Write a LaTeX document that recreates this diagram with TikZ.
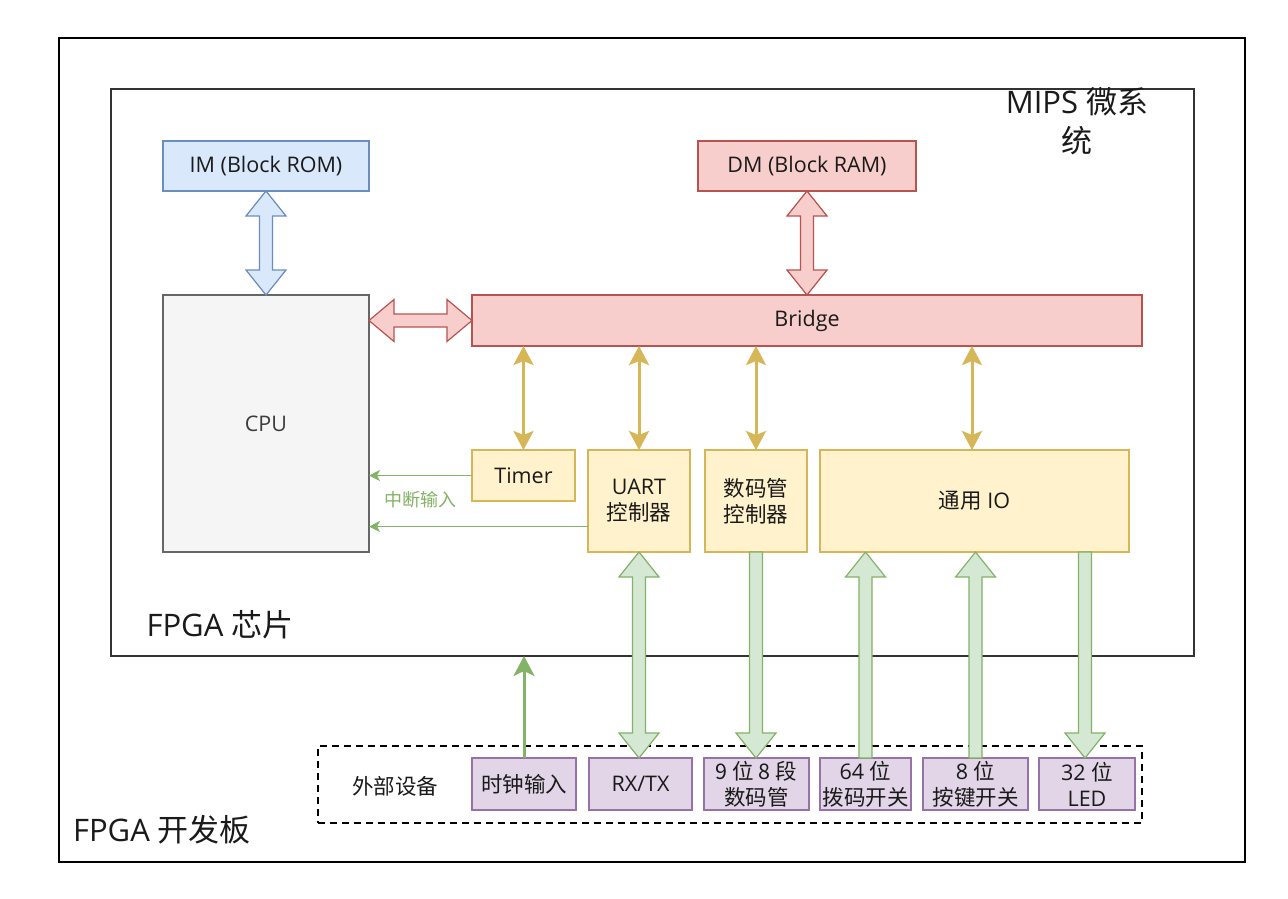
\documentclass[tikz,border=0pt]{standalone}
\usepackage{fontspec}
\setmainfont{Open Sans}
\newfontfamily\cjk{Noto Sans CJK SC}
\usetikzlibrary{arrows.meta,calc}
\definecolor{bluefill}{HTML}{DAE8FC}\definecolor{bluedraw}{HTML}{6C8EBF}
\definecolor{redfill}{HTML}{F8CECC}\definecolor{reddraw}{HTML}{B85450}
\definecolor{grayfill}{HTML}{F5F5F5}\definecolor{graydraw}{HTML}{666666}
\definecolor{yelfill}{HTML}{FFF2CC}\definecolor{yeldraw}{HTML}{D6B656}
\definecolor{grnfill}{HTML}{D5E8D4}\definecolor{grndraw}{HTML}{82B366}
\definecolor{purfill}{HTML}{E1D5E7}\definecolor{purdraw}{HTML}{9673A6}
\definecolor{txt}{HTML}{1A1A1A}
\newcommand{\vdouble}[3]{%
  \draw[#1] (#2) -- ++(20,25) -- ++(-13.5,0) -- ($(#3)+(6.5,-25)$) -- ++(13.5,0) -- (#3)
    -- ++(-20,-25) -- ++(13.5,0) -- ($(#2)+(-6.5,25)$) -- ++(-13.5,0) -- cycle;}
\newcommand{\hdouble}[3]{%
  \draw[#1] (#2) -- ++(25,-21) -- ++(0,14.5) -- ($(#3)+(-25,-6.5)$) -- ++(0,-14.5) -- (#3)
    -- ++(-25,21) -- ++(0,-14.5) -- ($(#2)+(25,6.5)$) -- ++(0,14.5) -- cycle;}
\newcommand{\vup}[3]{%
  \draw[#1] (#3) -- ++(20,25) -- ++(-13.5,0) -- ($(#2)+(6.5,0)$) -- ($(#2)+(-6.5,0)$)
    -- ($(#3)+(-6.5,25)$) -- ++(-13.5,0) -- cycle;}
\newcommand{\vdown}[3]{%
  \draw[#1] (#3) -- ++(20,-25) -- ++(-13.5,0) -- ($(#2)+(6.5,0)$) -- ($(#2)+(-6.5,0)$)
    -- ($(#3)+(-6.5,-25)$) -- ++(-13.5,0) -- cycle;}
\begin{document}
\begin{tikzpicture}[x=1pt,y=-1pt,
  every node/.style={inner sep=0pt,outer sep=0pt,text=txt,font=\fontsize{21.5}{26}\selectfont,align=center},
  frame/.style={draw=black,line width=1.2pt,rectangle},
  bluebox/.style={draw=bluedraw,fill=bluefill,line width=1.2pt,rectangle},
  redbox/.style={draw=reddraw,fill=redfill,line width=1.2pt,rectangle},
  graybox/.style={draw=graydraw,fill=grayfill,line width=1.2pt,rectangle,text=graydraw!60!black},
  yelbox/.style={draw=yeldraw,fill=yelfill,line width=1.2pt,rectangle},
  purbox/.style={draw=purdraw,fill=purfill,line width=2pt,rectangle},
  bigtext/.style={font=\fontsize{31}{39}\selectfont},
  ybus/.style={draw=yeldraw,line width=3pt,
    {Stealth[length=19pt,width=20pt,inset=4pt]}-{Stealth[length=19pt,width=20pt,inset=4pt]}},
  irq/.style={draw=grndraw,line width=1.3pt,-{Stealth[length=11pt,width=11pt,inset=3pt]}},
  clkline/.style={draw=grndraw,line width=3pt,-{Stealth[length=20pt,width=21pt,inset=5pt]}},
  blkblue/.style={draw=bluedraw,fill=bluefill,line width=1.2pt,line join=miter},
  blkred/.style={draw=reddraw,fill=redfill,line width=1.2pt,line join=miter},
  blkgrn/.style={draw=grndraw,fill=grnfill,line width=1.2pt,line join=miter}]
\useasboundingbox (0,0) rectangle (1288,898);
\fill[white] (0,0) rectangle (1288,898);
% frames
\node[frame,minimum width=1186pt,minimum height=824pt] (board) at (652,450) {};
\node[frame,draw=black!80,minimum width=1083pt,minimum height=567pt] (chip) at (652.5,372.5) {};
\node[bigtext] (mipslbl) at (1077,121) {MIPS {\cjk 微系}\\{\cjk 统}};
\node[bigtext] (chiplbl) at (220,625) {FPGA {\cjk 芯片}};
\node[bigtext] (boardlbl) at (162,830) {FPGA {\cjk 开发板}};
% memories & cpu
\node[bluebox,minimum width=206pt,minimum height=50pt] (im) at (266,166) {IM (Block ROM)};
\node[redbox,minimum width=218pt,minimum height=50pt] (dm) at (807,166) {DM (Block RAM)};
\node[graybox,minimum width=206pt,minimum height=257pt] (cpu) at (266,423.5) {CPU};
\node[redbox,minimum width=670pt,minimum height=51pt] (bridge) at (807,320.5) {Bridge};
% peripherals
\node[yelbox,minimum width=103pt,minimum height=51pt] (timer) at (523.5,475.5) {Timer};
\node[yelbox,minimum width=102pt,minimum height=102pt] (uart) at (639,501) {UART\\{\cjk 控制器}};
\node[yelbox,minimum width=102pt,minimum height=102pt] (seg) at (756,501) {{\cjk 数码管}\\{\cjk 控制器}};
\node[yelbox,minimum width=309pt,minimum height=102pt] (io) at (974.5,501) {{\cjk 通用} IO};
% external devices
\node[draw=black,line width=2pt,dash pattern=on 7pt off 5pt,minimum width=824pt,minimum height=77pt] (ext) at (730,784.5) {};
\node (extlbl) at (395,786) {\cjk 外部设备};
\node[purbox,minimum width=104pt,minimum height=52pt] (clk) at (524,784) {\cjk 时钟输入};
\node[purbox,minimum width=103pt,minimum height=52pt] (rxtx) at (640.5,784) {RX/TX};
\node[purbox,minimum width=105pt,minimum height=52pt] (seg8) at (756.5,784) {{\cjk 9 位 8 段}\\{\cjk 数码管}};
\node[purbox,minimum width=91pt,minimum height=52pt] (dip) at (865.5,784) {64 {\cjk 位}\\{\cjk 拨码开关}};
\node[purbox,minimum width=105pt,minimum height=52pt] (key) at (975.5,784) {8 {\cjk 位}\\{\cjk 按键开关}};
\node[purbox,minimum width=96pt,minimum height=52pt] (led) at (1087,784) {32 {\cjk 位}\\LED};
% block arrows
\vdouble{blkblue}{im.south}{cpu.north}
\vdouble{blkred}{dm.south}{bridge.north}
\hdouble{blkred}{bridge.west -| cpu.east}{bridge.west}
% bus arrows
\draw[ybus] (timer.north |- bridge.south) -- (timer.north);
\draw[ybus] (uart.north |- bridge.south) -- (uart.north);
\draw[ybus] (seg.north |- bridge.south) -- (seg.north);
\coordinate (iotop) at ($(io.north)+(-2.5,0)$);
\draw[ybus] (iotop |- bridge.south) -- (iotop);
% interrupts
\draw[irq] (timer.west) -- (timer.west -| cpu.east);
\coordinate (uirq) at ($(uart.south west)!0.25!(uart.north west)$);
\draw[irq] (uirq) -- (uirq -| cpu.east);
\node[text=grndraw,font=\fontsize{18}{20}\selectfont] (irqlbl) at (420,500) {\cjk 中断输入};
% device arrows
\vdouble{blkgrn}{uart.south}{uart.south |- rxtx.north}
\vdown{blkgrn}{seg.south}{seg.south |- seg8.north}
\vup{blkgrn}{dip.north}{dip.north |- io.south}
\vup{blkgrn}{key.north}{key.north |- io.south}
\coordinate (ledx) at ($(led.north)+(-2,0)$);
\vdown{blkgrn}{ledx |- io.south}{ledx}
\draw[clkline] (clk.north) -- (clk.north |- chip.south);
\end{tikzpicture}
\end{document}
